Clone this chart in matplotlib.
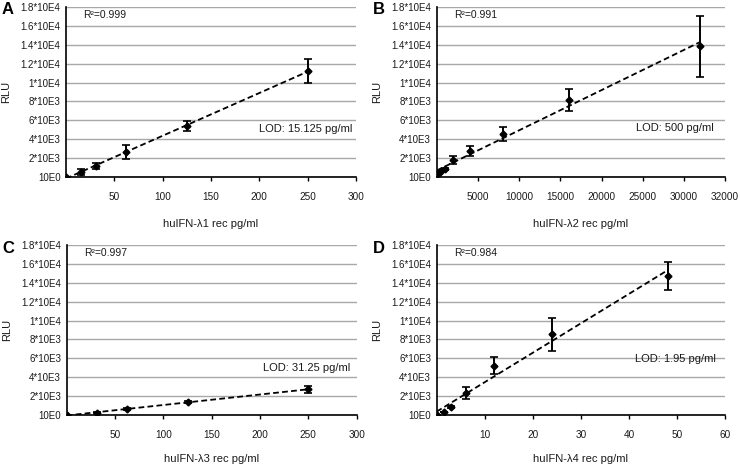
import matplotlib
matplotlib.use("Agg")
import matplotlib.pyplot as plt
import numpy as np

plt.rcParams['font.family'] = ['Liberation Sans', 'DejaVu Sans']

# ---- data ----
a_x = [0, 15.625, 31.25, 62.5, 125, 250]
a_y = [0, 530, 1170, 2660, 5380, 11230]
a_err = [0, 350, 350, 730, 520, 1300]

b_x = [0, 250, 500, 1000, 2000, 4000, 8000, 16000, 32000]
b_y = [350, 450, 600, 850, 1770, 2760, 4570, 8150, 13820]
b_err = [0, 0, 50, 100, 420, 500, 740, 1130, 3260]

c_x = [0, 31.25, 62.5, 125, 250]
c_y = [0, 250, 600, 1380, 2720]
c_err = [0, 80, 100, 120, 340]

d_x = [0, 1.5, 3, 6, 12, 24, 48]
d_y = [0, 300, 880, 2300, 5240, 8540, 14720]
d_err = [0, 0, 100, 650, 880, 1720, 1530]

y_ticks = [0, 2000, 4000, 6000, 8000, 10000, 12000, 14000, 16000, 18000]
y_labels = ["10E0", "2*10E3", "4*10E3", "6*10E3", "8*10E3", "1*10E4",
            "1.2*10E4", "1.4*10E4", "1.6*10E4", "1.8*10E4"]

a_xticks = [50, 100, 150, 200, 250, 300]
a_xlabels = ["50", "100", "150", "200", "250", "300"]
b_xticks = [5000, 10000, 15000, 20000, 25000, 30000, 35000]
b_xlabels = ["5000", "10000", "15000", "20000", "25000", "30000", "32000"]
c_xticks = [50, 100, 150, 200, 250, 300]
c_xlabels = ["50", "100", "150", "200", "250", "300"]
d_xticks = [10, 20, 30, 40, 50, 60]
d_xlabels = ["10", "20", "30", "40", "50", "60"]

panels = [
    dict(letter="A", x=a_x, y=a_y, err=a_err, xmax=300, xt=a_xticks, xl=a_xlabels,
         xlabel="huIFN-λ1 rec pg/ml", r2="R²=0.999", lod="LOD: 15.125 pg/ml",
         lodpos=(0.986, 0.282), rect=(66, 7, 290, 170), xlab_off=42),
    dict(letter="B", x=b_x, y=b_y, err=b_err, xmax=35000, xt=b_xticks, xl=b_xlabels,
         xlabel="huIFN-λ2 rec pg/ml", r2="R²=0.991", lod="LOD: 500 pg/ml",
         lodpos=(0.96, 0.29), rect=(436.7, 7, 288.5, 170), xlab_off=42),
    dict(letter="C", x=c_x, y=c_y, err=c_err, xmax=300, xt=c_xticks, xl=c_xlabels,
         xlabel="huIFN-λ3 rec pg/ml", r2="R²=0.997", lod="LOD: 31.25 pg/ml",
         lodpos=(0.977, 0.278), rect=(66.7, 245, 290, 170), xlab_off=39),
    dict(letter="D", x=d_x, y=d_y, err=d_err, xmax=60, xt=d_xticks, xl=d_xlabels,
         xlabel="huIFN-λ4 rec pg/ml", r2="R²=0.984", lod="LOD: 1.95 pg/ml",
         lodpos=(0.966, 0.328), rect=(436.7, 245, 288.5, 170), xlab_off=39),
]

W, H = 741, 465
fig = plt.figure(figsize=(W / 100, H / 100), dpi=100)
txt = '#1a1a1a'

for p in panels:
    l, t, w, h = p["rect"]
    ax = fig.add_axes([l / W, (H - t - h) / H, w / W, h / H])
    x = np.array(p["x"], dtype=float)
    y = np.array(p["y"], dtype=float)
    # linear trendline
    k, b0 = np.polyfit(x, y, 1)
    xs = np.array([0, x.max()])
    ax.plot(xs, k * xs + b0, color='black', lw=1.3, ls=(0, (3.2, 1.8)), zorder=3)
    ax.errorbar(x, y, yerr=p["err"], fmt='D', color='black', ms=3.5,
                elinewidth=1.4, capsize=2.8, capthick=1.2, zorder=4)
    ax.set_xlim(0, p["xmax"])
    ax.set_ylim(0, 18000)
    ax.set_yticks(y_ticks)
    ax.set_yticklabels(y_labels)
    ax.set_xticks(p["xt"])
    ax.set_xticklabels(p["xl"])
    ax.tick_params(axis='y', length=0, pad=4, labelsize=7, labelcolor=txt)
    ax.tick_params(axis='x', length=3, width=1, pad=8, labelsize=7.2, labelcolor=txt,
                   direction='out')
    ax.grid(axis='y', color='#a8a8a8', lw=1)
    ax.set_axisbelow(True)
    for s in ['top', 'right']:
        ax.spines[s].set_visible(False)
    for s in ['left', 'bottom']:
        ax.spines[s].set_linewidth(1.2)
        ax.spines[s].set_color('black')
    ax.set_ylabel("RLU", fontsize=8, color=txt)
    ax.yaxis.set_label_coords(-55 / w, 0.5)
    ax.set_xlabel(p["xlabel"], fontsize=8, color=txt)
    ax.xaxis.set_label_coords(0.5, -p["xlab_off"] / h)
    ax.text(0.06, 0.953, p["r2"], transform=ax.transAxes, fontsize=7.5,
            ha='left', va='center', color=txt)
    ax.text(p["lodpos"][0], p["lodpos"][1], p["lod"], transform=ax.transAxes,
            fontsize=8, ha='right', va='center', color=txt)
    fig.text((l - 64) / W, 1 - (t + 3) / H, p["letter"], fontsize=12,
             fontweight='bold', ha='left', va='center', color='black')

fig.savefig("out.png", dpi=100)
